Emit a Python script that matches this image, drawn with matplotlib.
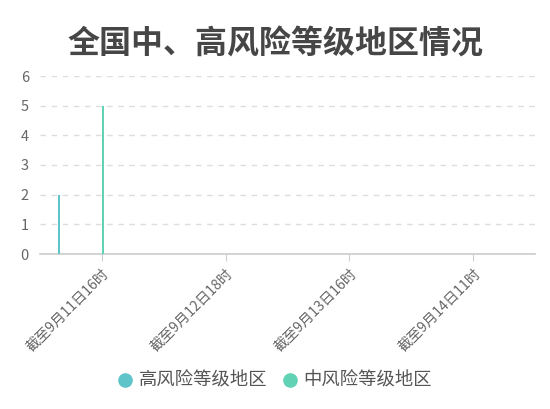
import matplotlib.pyplot as plt
from matplotlib.lines import Line2D
import numpy as np

plt.rcParams['font.family'] = ['Noto Sans CJK SC', 'DejaVu Sans']

# 数据
categories = ['截至9月11日16时', '截至9月12日18时', '截至9月13日16时', '截至9月14日11时']
high_risk = [2, 0, 0, 0]
mid_risk = [5, 0, 0, 0]
series_names = ['高风险等级地区', '中风险等级地区']

color_high = '#5fc4c9'
color_mid = '#62d2b5'

fig = plt.figure(figsize=(5.5, 4.09), dpi=100)
ax = fig.add_axes([40 / 550, 1 - 254 / 409, 495 / 550, 178 / 409])

x = np.arange(len(categories))
w = 0.02
ax.bar(x - 0.345, high_risk, width=w, color=color_high, zorder=3)
ax.bar(x + 0.01, mid_risk, width=w, color=color_mid, zorder=3)

ax.set_xlim(-0.5, len(categories) - 0.5)
ax.set_ylim(0, 6)
ax.set_yticks(range(0, 7))

ax.grid(axis='y', linestyle=(0, (4, 4)), color='#dddddd', linewidth=1, zorder=0)
for s in ['top', 'right', 'left']:
    ax.spines[s].set_visible(False)
ax.spines['bottom'].set_color('#cccccc')
ax.spines['bottom'].set_linewidth(1.2)

ax.set_xticks(x)
ax.set_xticklabels(categories, rotation=45, ha='right', rotation_mode='anchor',
                   fontsize=10.2, color='#666666')
ax.tick_params(axis='x', length=5, color='#cccccc', pad=4)
ax.tick_params(axis='y', length=0, labelsize=10.5, labelcolor='#666666', pad=8)

fig.text(0.5, 1 - 45 / 409, '全国中、高风险等级地区情况', ha='center', va='center',
         fontsize=23, fontweight='bold', color='#464646')

# 圆形图例标记
handles = [Line2D([], [], marker='o', linestyle='', markersize=9.5, color=c)
           for c in [color_high, color_mid]]
fig.legend(handles, series_names, loc='center',
           bbox_to_anchor=(0.5, 1 - 381 / 409), ncol=2, frameon=False, fontsize=13.2,
           handlelength=0.8, handletextpad=0.35, columnspacing=0.8, labelcolor='#555555')

fig.savefig('out.png', dpi=100)
